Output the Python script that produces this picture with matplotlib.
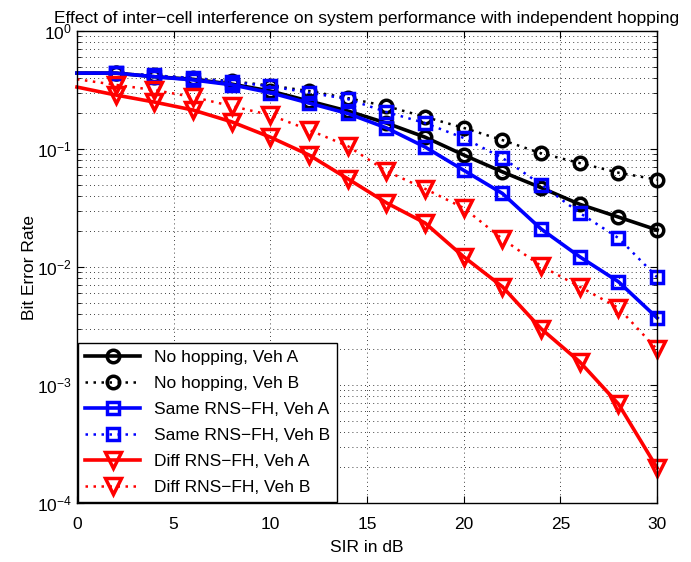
import numpy as np
import matplotlib
matplotlib.use("Agg")
import matplotlib.pyplot as plt

plt.rcParams['font.family'] = ['Liberation Sans', 'DejaVu Sans']

## SIR points (markers from 2 dB up, line starts at 0)
sir = [0, 2, 4, 6, 8, 10, 12, 14, 16, 18, 20, 22, 24, 26, 28, 30]

nohop_a = [0.44, 0.44, 0.41, 0.39, 0.355, 0.31, 0.255, 0.21, 0.166, 0.126, 0.089, 0.064, 0.047, 0.034, 0.0265, 0.0206]
nohop_b = [0.44, 0.44, 0.42, 0.40, 0.375, 0.345, 0.31, 0.27, 0.231, 0.187, 0.151, 0.119, 0.092, 0.076, 0.063, 0.055]
same_a = [0.44, 0.44, 0.41, 0.385, 0.35, 0.30, 0.245, 0.20, 0.151, 0.104, 0.066, 0.042, 0.021, 0.0122, 0.0075, 0.0037]
same_b = [0.44, 0.44, 0.42, 0.40, 0.37, 0.34, 0.30, 0.265, 0.206, 0.166, 0.124, 0.084, 0.050, 0.0287, 0.0176, 0.0082]
diff_a = [0.335, 0.287, 0.25, 0.214, 0.17, 0.126, 0.089, 0.056, 0.035, 0.0236, 0.0122, 0.0068, 0.0030, 0.00157, 0.00069, 0.000198]
diff_b = [0.39, 0.35, 0.316, 0.276, 0.231, 0.194, 0.145, 0.106, 0.065, 0.046, 0.0316, 0.0173, 0.0102, 0.0068, 0.0045, 0.0020]

labels = ["No hopping, Veh A", "No hopping, Veh B",
          "Same RNS\u2212FH, Veh A", "Same RNS\u2212FH, Veh B",
          "Diff RNS\u2212FH, Veh A", "Diff RNS\u2212FH, Veh B"]

fs = 12.5
fig = plt.figure(figsize=(6.91, 5.62), dpi=100)
ax = fig.add_axes([0.1114, 0.105, 0.8396, 0.8398])

dot = (0, (1, 2.2))
series = [
    (nohop_a, 'k', '-', 'o'),
    (nohop_b, 'k', dot, 'o'),
    (same_a, '#0000ff', '-', 's'),
    (same_b, '#0000ff', dot, 's'),
    (diff_a, '#ff0000', '-', 'v'),
    (diff_b, '#ff0000', dot, 'v'),
]
for (vals, col, ls, mk), lab in zip(series, labels):
    solid = ls == '-'
    ax.semilogy(sir, vals, color=col, linestyle=ls, linewidth=2.6 if solid else 1.8,
                marker=mk, markersize=11 if mk == 'v' else 9, markerfacecolor='none',
                markeredgewidth=2.5, markevery=slice(1, None), label=lab, clip_on=False)

ax.set_xlim(0, 30)
ax.set_ylim(1e-4, 1)
ax.set_xticks([0, 5, 10, 15, 20, 25, 30])
ax.grid(True, which='major', color='k', linestyle=(0, (1, 4)), linewidth=0.6)
ax.grid(True, which='minor', axis='y', color='k', linestyle=(0, (1, 4)), linewidth=0.6)
ax.tick_params(which='both', direction='in', top=True, right=True, labelsize=fs)
ax.tick_params(which='major', length=5)
ax.tick_params(which='minor', length=3)
ax.tick_params(axis='x', pad=10)
for s in ax.spines.values():
    s.set_linewidth(1.0)

ax.set_xlabel("SIR in dB", fontsize=fs, labelpad=6)
ax.set_ylabel("Bit Error Rate", fontsize=fs, labelpad=0)
ax.set_title("Effect of inter\u2212cell interference on system performance with independent hopping",
             fontsize=fs, pad=6)

leg = ax.legend(loc='lower left', fontsize=fs, handlelength=3.2, borderaxespad=0.05,
                fancybox=False, edgecolor='k', framealpha=1, labelspacing=0.63)
leg.get_frame().set_linewidth(1.0)

fig.savefig("out.png", dpi=100)
